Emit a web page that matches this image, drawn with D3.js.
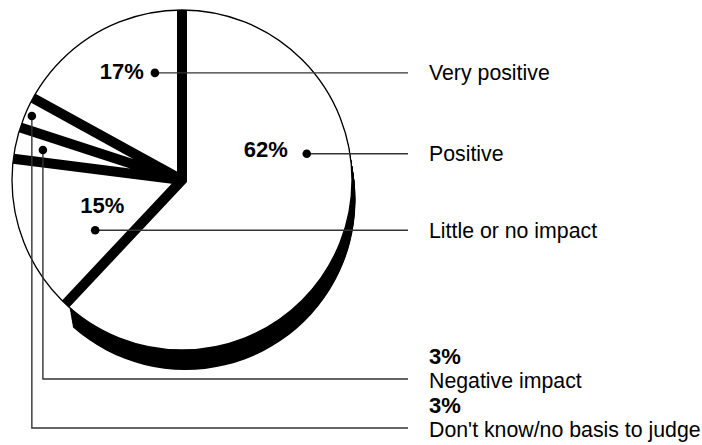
<!DOCTYPE html>
<html><head><meta charset="utf-8">
<script src="https://cdn.jsdelivr.net/npm/d3@7"></script>
<style>body{margin:0;background:#fff}svg{display:block}</style>
</head><body>
<svg id="chart" width="702" height="445"></svg>
<script>
// ---- data (clockwise from 12 o'clock) ----
const categories = ["Positive", "Little or no impact", "Negative impact", "Don't know/no basis to judge", "Very positive"];
const values = [62, 15, 3, 3, 17];
const pctLabels = ["62%", "15%", "3%", "3%", "17%"];

// ---- layout ----
const cx = 182, cy = 180, R = 170, gap = 5;
const depth = [3.5, 20];               // extrusion of the front slice
const anchors = [[0.35, 0.75], [0.31, 0.59], [0.46, 0.837], [0.47, 0.96], [0.768, 0.65]]; // [angle fraction, radius fraction]
const elbowY = [null, null, 379, 428, null];
const lineEndX = 408, textX = 429;
const FONT = "'Liberation Sans', Arial, Helvetica, sans-serif";

const svg = d3.select("#chart");
const arcs = d3.pie().sort(null).value(d => d)(values);

const pt = (a, r) => [cx + r * Math.sin(a), cy - r * Math.cos(a)];

function slicePath(d, dx = 0, dy = 0) {
  const a0 = d.startAngle, a1 = d.endAngle, m = (a0 + a1) / 2;
  const half = (a1 - a0) / 2;
  const ad = gap / Math.sin(half);
  const ap = pt(m, ad);
  const pa = Math.asin(gap / R);
  const p = d3.path();
  p.moveTo(ap[0] + dx, ap[1] + dy);
  const r0 = pt(a0 + pa, R);
  p.lineTo(r0[0] + dx, r0[1] + dy);
  p.arc(cx + dx, cy + dy, R, a0 + pa - Math.PI / 2, a1 - pa - Math.PI / 2, false);
  p.closePath();
  return p.toString();
}

// extrusion of the front slice
const front = arcs[0];
const steps = d3.range(0, 1.0001, 0.04);
svg.append("g").selectAll("path").data(steps).join("path")
  .attr("d", t => slicePath(front, depth[0] * t, depth[1] * t))
  .attr("fill", "#000");

// black base disc (shows through the gaps)
svg.append("circle").attr("cx", cx).attr("cy", cy).attr("r", R).attr("fill", "#000");

// white slices
svg.append("g").selectAll("path").data(arcs).join("path")
  .attr("d", d => slicePath(d))
  .attr("fill", "#fff");

// thin outline
svg.append("circle").attr("cx", cx).attr("cy", cy).attr("r", R)
  .attr("fill", "none").attr("stroke", "#000").attr("stroke-width", 1.3);

// leaders
const dots = arcs.map((d, i) => pt(d.startAngle + anchors[i][0] * (d.endAngle - d.startAngle), anchors[i][1] * R));
const lg = svg.append("g");
arcs.forEach((d, i) => {
  const [x, y] = dots[i];
  const pts = elbowY[i] == null ? [[x, y], [lineEndX, y]] : [[x, y], [x, elbowY[i]], [lineEndX, elbowY[i]]];
  lg.append("path").attr("d", d3.line()(pts)).attr("fill", "none")
    .attr("stroke", "#333").attr("stroke-width", 1.4);
});
lg.selectAll("circle").data(dots).join("circle")
  .attr("cx", d => d[0]).attr("cy", d => d[1]).attr("r", 4.3).attr("fill", "#000");

// percentage labels inside pie
const inside = [
  {i: 0, dx: -19, dy: 3, anchor: "end"},
  {i: 1, dx: 7, dy: -17, anchor: "middle"},
  {i: 4, dx: -11, dy: 6, anchor: "end"}
];
svg.append("g").selectAll("text").data(inside).join("text")
  .attr("x", d => dots[d.i][0] + d.dx).attr("y", d => dots[d.i][1] + d.dy)
  .attr("text-anchor", d => d.anchor)
  .attr("font-family", FONT).attr("font-weight", "bold").attr("font-size", 22)
  .text(d => pctLabels[d.i]);

// category labels on the right
const tg = svg.append("g").attr("font-family", FONT);
arcs.forEach((d, i) => {
  const ly = elbowY[i] == null ? dots[i][1] : elbowY[i];
  tg.append("text").attr("x", textX).attr("y", ly + (elbowY[i] == null ? 7.5 : 9))
    .attr("font-size", 21.3).text(categories[i]);
  if (elbowY[i] != null) {
    tg.append("text").attr("x", textX).attr("y", ly - 15)
      .attr("font-size", 22).attr("font-weight", "bold").text(pctLabels[i]);
  }
});
</script>
</body></html>
